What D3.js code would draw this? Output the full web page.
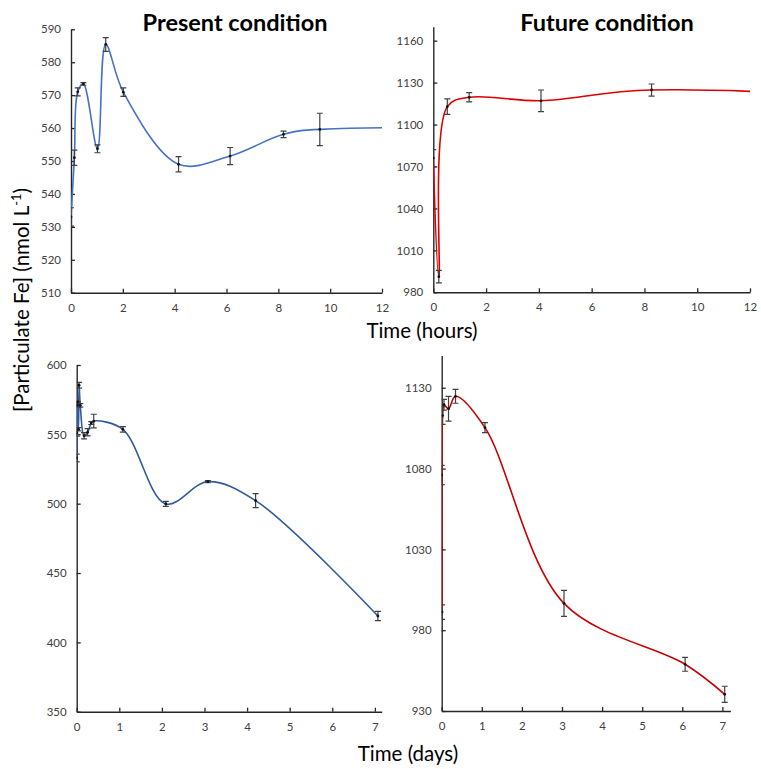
<!DOCTYPE html>
<html>
<head>
<meta charset="utf-8">
<script src="https://cdn.jsdelivr.net/npm/d3@7"></script>
<style>
  body { margin: 0; background: #fff; }
  svg { font-family: Lato, "Open Sans", sans-serif; }
  .tick text { fill: #404040; font-size: 11.5px; }
</style>
</head>
<body>
<svg id="chart" width="761" height="769"></svg>
<script>
// sampling times in hours (bottom panels show the same points in days)
var presentHours = [0, 0.13, 0.26, 0.48, 1.02, 1.34, 2.02, 4.15, 6.14, 8.2, 9.6, 26, 50.2, 73.9, 100.8, 169.7];
var presentFe    = [533, 551, 571, 573.4, 553.7, 585.4, 570.9, 549, 551.5, 558.1, 559.6, 553.6, 499.8, 515.9, 502.2, 419];
var presentErr   = [2.8, 2.3, 1.2, 0.4, 1.2, 2.1, 1.3, 2.3, 2.6, 1, 4.9, 2, 1.8, 0.8, 5, 3.3];

var futureHours = [0, 0.21, 0.53, 1.36, 4.08, 8.27, 25.9, 73.2, 145.7, 169.4];
var futureFe    = [1076, 991.2, 1112.8, 1119.5, 1117, 1124.7, 1105.3, 996.6, 958.9, 940.3];
var futureErr   = [6, 4.5, 5.5, 3.3, 7.7, 4.3, 3.1, 8, 4.3, 5];

var hourTicks = [0, 2, 4, 6, 8, 10, 12];
var dayTicks = [0, 1, 2, 3, 4, 5, 6, 7];
var presentHourTicks = [510, 520, 530, 540, 550, 560, 570, 580, 590];
var futureHourTicks = [980, 1010, 1040, 1070, 1100, 1130, 1160];
var presentDayTicks = [350, 400, 450, 500, 550, 600];
var futureDayTicks = [930, 980, 1030, 1080, 1130];

var svg = d3.select("#chart");

var panels = [
  {id: "tl", t: presentHours, v: presentFe, e: presentErr, div: 1,
   xd: [0, 12], xr: [71, 382], yd: [510, 590], yr: [292.7, 29.3],
   xt: hourTicks, yt: presentHourTicks, color: "#4472c4"},
  {id: "tr", t: futureHours, v: futureFe, e: futureErr, div: 1,
   xd: [0, 12], xr: [433.3, 750], yd: [980, 1170], yr: [292.3, 26.7],
   xt: hourTicks, yt: futureHourTicks, color: "#dd0000"},
  {id: "bl", t: presentHours, v: presentFe, e: presentErr, div: 24,
   xd: [0, 7.16], xr: [76.7, 381.7], yd: [350, 600], yr: [711.7, 365],
   xt: dayTicks, yt: presentDayTicks, color: "#2f5a9e"},
  {id: "br", t: futureHours, v: futureFe, e: futureErr, div: 24,
   xd: [0, 7.2], xr: [441.7, 730.4], yd: [930, 1150], yr: [711, 355.4],
   xt: dayTicks, yt: futureDayTicks, color: "#c80000"}
];

panels.forEach(function(p) {
  var x = d3.scaleLinear().domain(p.xd).range(p.xr);
  var y = d3.scaleLinear().domain(p.yd).range(p.yr);
  var pts = p.t.map(function(t, i) { return {x: t / p.div, y: p.v[i], e: p.e[i]}; });

  // clip to the plot area (top panels only show the first 12 hours)
  svg.append("clipPath").attr("id", "clip-" + p.id)
    .append("rect")
    .attr("x", p.xr[0]).attr("y", p.yr[1] - 10)
    .attr("width", p.xr[1] - p.xr[0]).attr("height", p.yr[0] - p.yr[1] + 20);

  var g = svg.append("g");

  // axes, ticks point inward
  var ax = g.append("g")
    .attr("transform", "translate(0," + p.yr[0] + ")")
    .call(d3.axisBottom(x).tickValues(p.xt).tickFormat(d3.format("d"))
      .tickSizeInner(-4).tickSizeOuter(0).tickPadding(11));
  var ay = g.append("g")
    .attr("transform", "translate(" + p.xr[0] + ",0)")
    .call(d3.axisLeft(y).tickValues(p.yt).tickFormat(d3.format("d"))
      .tickSizeInner(-4).tickSizeOuter(0).tickPadding(10));
  [ax, ay].forEach(function(a) {
    a.select(".domain").attr("stroke", "#262626").attr("stroke-width", 1.4);
    a.selectAll(".tick line").attr("stroke", "#262626").attr("stroke-width", 1.3);
    a.selectAll(".tick text").attr("font-family", "Lato, sans-serif");
  });

  var body = g.append("g").attr("clip-path", "url(#clip-" + p.id + ")");

  var line = d3.line()
    .x(function(d) { return x(d.x); })
    .y(function(d) { return y(d.y); })
    .curve(d3.curveCatmullRom.alpha(0.5));

  body.append("path").datum(pts)
    .attr("d", line)
    .attr("fill", "none")
    .attr("stroke", p.color)
    .attr("stroke-width", 1.6);

  // error bars
  var eb = body.selectAll(".eb").data(pts).enter().append("g").attr("class", "eb")
    .attr("stroke", "#404040").attr("stroke-width", 1.2);
  eb.append("line")
    .attr("x1", function(d) { return x(d.x); }).attr("x2", function(d) { return x(d.x); })
    .attr("y1", function(d) { return y(d.y - d.e); }).attr("y2", function(d) { return y(d.y + d.e); });
  eb.append("line")
    .attr("x1", function(d) { return x(d.x) - 3; }).attr("x2", function(d) { return x(d.x) + 3; })
    .attr("y1", function(d) { return y(d.y + d.e); }).attr("y2", function(d) { return y(d.y + d.e); });
  eb.append("line")
    .attr("x1", function(d) { return x(d.x) - 3; }).attr("x2", function(d) { return x(d.x) + 3; })
    .attr("y1", function(d) { return y(d.y - d.e); }).attr("y2", function(d) { return y(d.y - d.e); });

  body.selectAll(".pt").data(pts).enter().append("circle")
    .attr("cx", function(d) { return x(d.x); })
    .attr("cy", function(d) { return y(d.y); })
    .attr("r", 1.4)
    .attr("fill", "#111");
});

// titles and axis labels
svg.append("text").attr("x", 235).attr("y", 31).attr("text-anchor", "middle")
  .attr("font-size", 23.5).attr("font-weight", "bold").attr("fill", "#000").text("Present condition");
svg.append("text").attr("x", 607).attr("y", 31).attr("text-anchor", "middle")
  .attr("font-size", 23.5).attr("font-weight", "bold").attr("fill", "#000").text("Future condition");

svg.append("text").attr("x", 422).attr("y", 338).attr("text-anchor", "middle")
  .attr("font-size", 20.5).attr("fill", "#000").text("Time (hours)");
svg.append("text").attr("x", 408).attr("y", 761).attr("text-anchor", "middle")
  .attr("font-size", 20.5).attr("fill", "#000").text("Time (days)");

var yl = svg.append("text")
  .attr("transform", "translate(29,300) rotate(-90)")
  .attr("text-anchor", "middle")
  .attr("font-size", 20.5).attr("fill", "#000");
yl.append("tspan").text("[Particulate Fe] (nmol L");
yl.append("tspan").attr("dy", -8).attr("font-size", 13).text("-1");
yl.append("tspan").attr("dy", 8).text(")");
</script>
</body>
</html>
